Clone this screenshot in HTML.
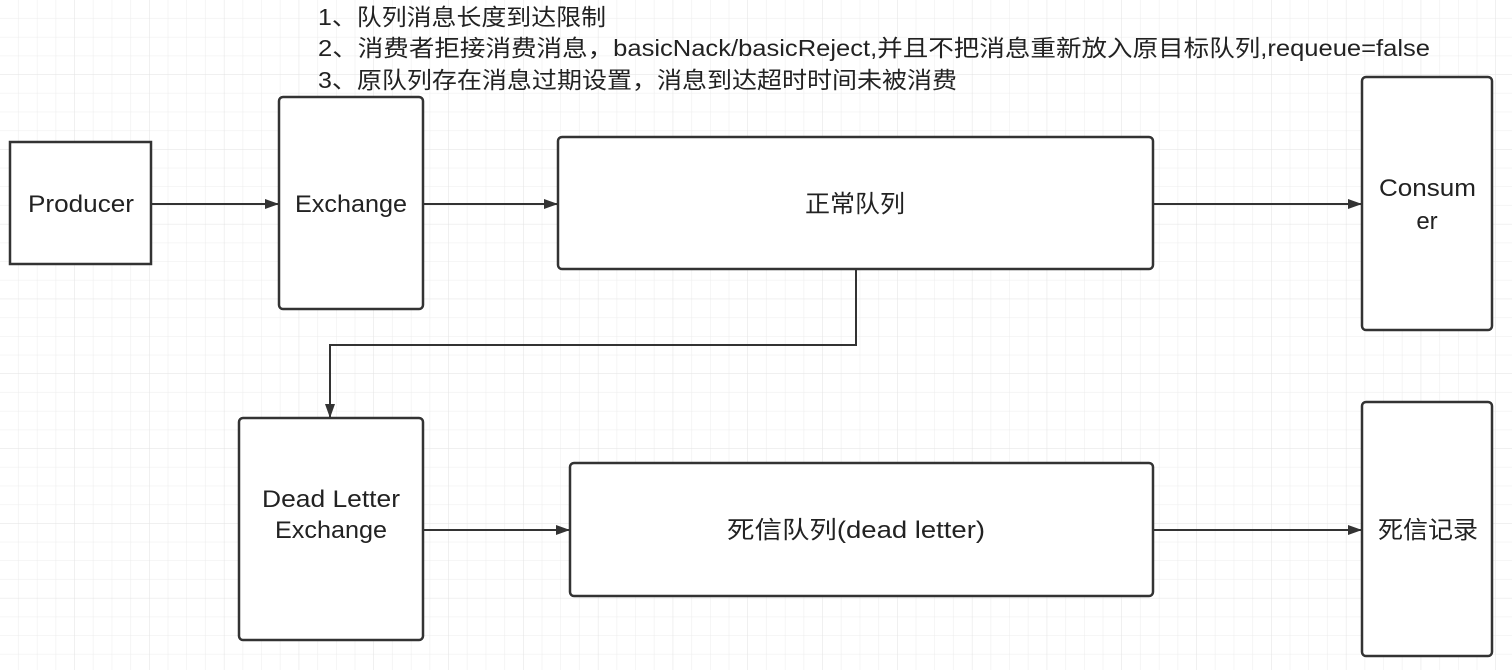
<!DOCTYPE html>
<html><head><meta charset="utf-8"><style>
html,body{margin:0;padding:0;background:#fff;}
svg{display:block;}
text{font-family:"Liberation Sans","Noto Sans CJK SC",sans-serif;fill:#222;}
</style></head><body>
<svg width="1512" height="670" viewBox="0 0 1512 670" xmlns="http://www.w3.org/2000/svg">
<defs>
<pattern id="g" width="18.7" height="18.7" patternUnits="userSpaceOnUse">
<path d="M18.7 0V18.7M0 18.7H18.7" stroke="#ececec" stroke-width="1" fill="none"/>
</pattern>
<pattern id="G" width="74.8" height="74.8" patternUnits="userSpaceOnUse">
<rect width="74.8" height="74.8" fill="url(#g)"/>
<path d="M74.8 0V74.8M0 74.8H74.8" stroke="#e2e2e2" stroke-width="1" fill="none"/>
</pattern>
<marker id="a" markerWidth="14" markerHeight="10" refX="13" refY="5" orient="auto" markerUnits="userSpaceOnUse">
<path d="M0 0L14 5L0 10Z" fill="#333"/>
</marker>
</defs>
<rect width="1512" height="670" fill="url(#G)"/>
<g font-size="23" lengthAdjust="spacingAndGlyphs">
<text x="318" y="25" textLength="288" lengthAdjust="spacingAndGlyphs">1、队列消息长度到达限制</text>
<text x="318" y="56" textLength="1112" lengthAdjust="spacingAndGlyphs">2、消费者拒接消费消息，basicNack/basicReject,并且不把消息重新放入原目标队列,requeue=false</text>
<text x="318" y="88" textLength="639" lengthAdjust="spacingAndGlyphs">3、原队列存在消息过期设置，消息到达超时时间未被消费</text>
</g>
<g fill="#fff" stroke="#333" stroke-width="2.5">
<rect x="10" y="142" width="141" height="122"/>
<rect x="279" y="97" width="144" height="212" rx="4"/>
<rect x="558" y="137" width="595" height="132" rx="4"/>
<rect x="1362" y="77" width="130" height="253" rx="4"/>
<rect x="239" y="418" width="184" height="222" rx="4"/>
<rect x="570" y="463" width="583" height="133" rx="4"/>
<rect x="1362" y="402" width="130" height="254" rx="4"/>
</g>
<g stroke="#333" stroke-width="2" fill="none" marker-end="url(#a)">
<path d="M151 204H278"/>
<path d="M423 204H557"/>
<path d="M1153 204H1361"/>
<path d="M423 530H569"/>
<path d="M1153 530H1361"/>
<path d="M856 269V345H330V417"/>
</g>
<g font-size="24">
<text x="28" y="212" textLength="106" lengthAdjust="spacingAndGlyphs">Producer</text>
<text x="295" y="212" textLength="112" lengthAdjust="spacingAndGlyphs">Exchange</text>
<text x="805" y="212" textLength="100" lengthAdjust="spacingAndGlyphs">正常队列</text>
<text x="1379" y="196" textLength="97" lengthAdjust="spacingAndGlyphs">Consum</text>
<text x="1427" y="229" text-anchor="middle">er</text>
<text x="262" y="507" textLength="138" lengthAdjust="spacingAndGlyphs">Dead Letter</text>
<text x="275" y="538" textLength="112" lengthAdjust="spacingAndGlyphs">Exchange</text>
<text x="727" y="538" textLength="258" lengthAdjust="spacingAndGlyphs">死信队列(dead letter)</text>
<text x="1378" y="538" textLength="100" lengthAdjust="spacingAndGlyphs">死信记录</text>
</g>
</svg>
</body></html>
